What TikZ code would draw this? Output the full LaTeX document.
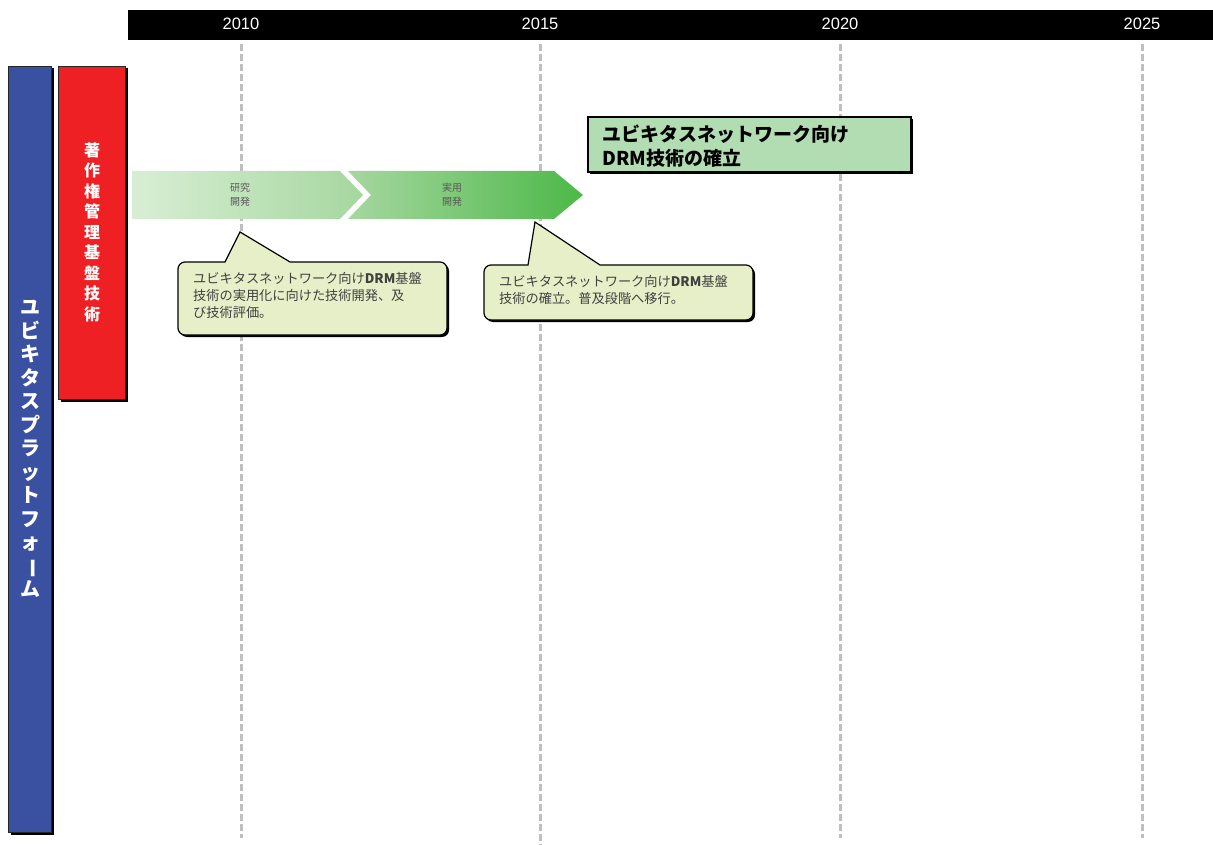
\documentclass[tikz,border=0pt]{standalone}
\usepackage{fontspec}
\setmainfont{Liberation Sans}
\newfontfamily\jp{Noto Sans CJK JP}
\usetikzlibrary{shadows}
\tikzset{>=latex, line width=1.0pt}
\definecolor{barblue}{HTML}{3A50A0}
\definecolor{barred}{HTML}{EE2024}
\definecolor{goalgreen}{HTML}{B2DCB2}
\definecolor{notefill}{HTML}{E6EFC8}
\definecolor{arrowlight}{HTML}{D8EED4}
\definecolor{arrowmid}{HTML}{A6D7A0}
\definecolor{arrowdark}{HTML}{4DB848}

\begin{document}
\begin{tikzpicture}[x=1pt,y=-1pt,
  yearline/.style={draw=black!25,line width=3pt,dash pattern=on 7pt off 3pt},
  yearlabel/.style={text=white,font=\fontsize{16.5}{16.5}\selectfont},
  boxshadow/.style={drop shadow={shadow xshift=2.5pt,shadow yshift=-2.5pt,fill=black,opacity=1}},
  barbox/.style={draw=black!85,line width=0.8pt,boxshadow},
  notebox/.style={draw=black,line width=1.2pt,fill=notefill,
    drop shadow={shadow xshift=2pt,shadow yshift=-2pt,fill=black,opacity=1}},
  notetext/.style={align=left,anchor=north west,inner sep=0pt,
    font=\jp\fontsize{13.2}{17}\selectfont,text=black!75},
  vtext/.style={align=center,text=white,inner sep=0pt}]
  \useasboundingbox (0,0) rectangle (1213,845);
  \def\ytop{44}
  \def\ybot{838}

  % years
  \fill (128,10) rectangle (1213,40);
  \node[yearlabel] (y2010) at (241,24) {2010};
  \node[yearlabel] (y2015) at (540,24) {2015};
  \node[yearlabel] (y2020) at (840,24) {2020};
  \node[yearlabel] (y2025) at (1142,24) {2025};
  \draw[yearline] (241,\ytop) -- (241,\ybot);
  \draw[yearline] (540,\ytop) -- (540,845);
  \draw[yearline] (840,\ytop) -- (840,\ybot);
  \draw[yearline] (1142,\ytop) -- (1142,\ybot);

  % bars
  \filldraw[barbox,fill=barblue] (8,66) rectangle (51,832);
  \filldraw[barbox,fill=barred] (58,66) rectangle (125,399);
  \node[vtext,font=\jp\bfseries\fontsize{20}{23.5}\selectfont] (platform) at (30,449)
    {ユ\\ビ\\キ\\タ\\ス\\プ\\ラ\\ッ\\ト\\フ\\ォ\\\rotatebox[origin=c]{-90}{ー}\\ム};
  \node[vtext,font=\jp\bfseries\fontsize{16}{20.5}\selectfont] (drmtech) at (92,232)
    {著\\作\\権\\管\\理\\基\\盤\\技\\術};

  % phases
  \shade[left color=arrowlight,right color=arrowmid]
    (132,171) -- (340,171) -- (363,195) -- (340,219) -- (132,219) -- cycle;
  \shade[left color=arrowmid,right color=arrowdark]
    (348,171) -- (554,171) -- (583,195) -- (554,219) -- (348,219) -- (371,195) -- cycle;
  \node[align=center,font=\jp\fontsize{10}{14}\selectfont,text=black!65] (research) at (240,195) {研究\\開発};
  \node[align=center,font=\jp\fontsize{10}{14}\selectfont,text=black!65] (practical) at (452,195) {実用\\開発};

  % goal
  \filldraw[draw=black,line width=1.2pt,fill=goalgreen,
    drop shadow={shadow xshift=2pt,shadow yshift=-2pt,fill=black,opacity=1}]
    (588,117) rectangle (911,172);
  \node[align=left,anchor=west,inner sep=0pt,font=\jp\bfseries\fontsize{19}{24}\selectfont] (goal) at (602,146)
    {ユビキタスネットワーク向け\\DRM技術の確立};

  % notes
  \draw[notebox] (178,298) [rounded corners=7pt] -- (178,262) [sharp corners] -- (225,262) -- (240,232)
    -- (290,262) [rounded corners=7pt] -- (447,262) -- (447,335) -- (178,335) -- cycle;
  \node[notetext] (note1) at (193,272)
    {ユビキタスネットワーク向け\textbf{DRM}基盤\\技術の実用化に向けた技術開発、及\\び技術評価。};
  \draw[notebox] (484,292) [rounded corners=7pt] -- (484,265) [sharp corners] -- (528,265) -- (535,222)
    -- (600,265) [rounded corners=7pt] -- (753,265) -- (753,320) -- (484,320) -- cycle;
  \node[notetext] (note2) at (499,275)
    {ユビキタスネットワーク向け\textbf{DRM}基盤\\技術の確立。普及段階へ移行。};
\end{tikzpicture}
\end{document}
